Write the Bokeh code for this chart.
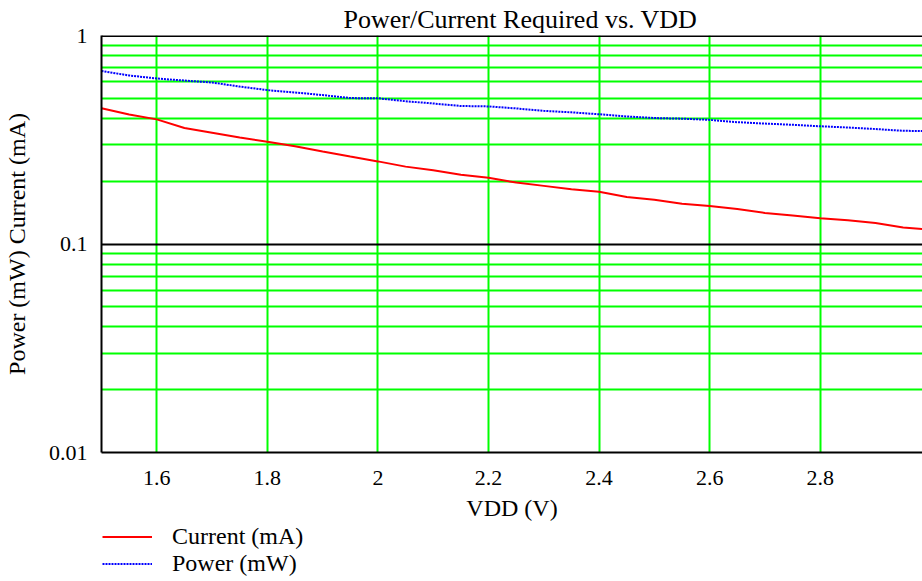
from bokeh.plotting import figure
from bokeh.layouts import column
from bokeh.models import (Range1d, FixedTicker, CustomJSTickFormatter, Legend,
                          LegendItem, Span)
from bokeh.embed import file_html
from bokeh.resources import INLINE

# ---- data ----
vdd = [1.50, 1.55, 1.60, 1.65, 1.70, 1.75, 1.80, 1.85, 1.90, 1.95, 2.00,
       2.05, 2.10, 2.15, 2.20, 2.25, 2.30, 2.35, 2.40, 2.45, 2.50, 2.55,
       2.60, 2.65, 2.70, 2.75, 2.80, 2.85, 2.90, 2.95, 3.00]
current_ma = [0.448, 0.418, 0.396, 0.360, 0.342, 0.324, 0.309, 0.294, 0.278,
              0.263, 0.249, 0.235, 0.226, 0.215, 0.208, 0.197, 0.190, 0.183,
              0.178, 0.168, 0.163, 0.156, 0.152, 0.147, 0.141, 0.137, 0.133,
              0.130, 0.126, 0.120, 0.117]
power_mw = [0.676, 0.643, 0.622, 0.608, 0.595, 0.569, 0.547, 0.533, 0.518,
            0.501, 0.500, 0.484, 0.472, 0.459, 0.457, 0.447, 0.435, 0.428,
            0.419, 0.409, 0.402, 0.399, 0.394, 0.384, 0.378, 0.373, 0.367,
            0.362, 0.356, 0.349, 0.348]

x_ticks = [1.6, 1.8, 2.0, 2.2, 2.4, 2.6, 2.8]
y_ticks = [0.01, 0.1, 1]
y_minor = [m * d for d in (0.01, 0.1) for m in range(2, 10)]

title_text = "Power/Current Required vs. VDD"
x_label = "VDD (V)"
y_label = "Power (mW) Current (mA)"
series_names = ["Current (mA)", "Power (mW)"]

FONT = "Liberation Serif"
GREEN = "#00ff00"

p = figure(frame_width=821, frame_height=417, output_backend="svg",
           toolbar_location=None, y_axis_type="log",
           x_range=Range1d(1.5, 2.985), y_range=Range1d(0.01, 1),
           min_border_left=93, min_border_right=0,
           min_border_top=31, min_border_bottom=71)

p.title.text = title_text
p.title.text_font = FONT
p.title.text_font_size = "26px"
p.title.text_font_style = "normal"
p.title.text_color = "black"
p.title.align = "left"
p.title.offset = 242
p.title.standoff = 4

p.outline_line_color = None
p.background_fill_color = "white"

# axes
p.xaxis.ticker = FixedTicker(ticks=x_ticks)
p.yaxis.ticker = FixedTicker(ticks=y_ticks, minor_ticks=y_minor)
p.yaxis.formatter = CustomJSTickFormatter(code="return tick.toString();")
for ax in (p.xaxis[0], p.yaxis[0]):
    ax.axis_line_color = "black"
    ax.axis_line_width = 2
    ax.major_tick_line_color = None
    ax.minor_tick_line_color = None
    ax.major_label_text_font = FONT
    ax.major_label_text_font_size = "22px"
    ax.major_label_text_color = "black"
    ax.axis_label_text_font = FONT
    ax.axis_label_text_font_size = "24px"
    ax.axis_label_text_font_style = "normal"
    ax.axis_label_text_color = "black"
p.xaxis.axis_label = x_label
p.yaxis.axis_label = y_label
p.xaxis.major_label_standoff = 12
p.xaxis.axis_label_standoff = 7
p.yaxis.major_label_standoff = 8
p.yaxis.axis_label_standoff = 16

# grids
p.xgrid.grid_line_color = GREEN
p.xgrid.grid_line_width = 2
p.ygrid.grid_line_color = "black"
p.ygrid.grid_line_width = 2
p.ygrid.minor_grid_line_color = GREEN
p.ygrid.minor_grid_line_width = 2

top = Span(location=1, dimension="width", line_color="black", line_width=3)
p.add_layout(top)

p.line(vdd, current_ma, line_color="red", line_width=2)
p.line(vdd, power_mw, line_color="blue", line_width=2, line_dash="2 1")

# legend strip below the chart (its frame is aligned with the chart's frame)
lg = figure(width=914, height=56, output_backend="svg",
            toolbar_location=None, x_axis_location=None, y_axis_location=None,
            x_range=Range1d(0, 1), y_range=Range1d(0, 1),
            min_border_left=0, min_border_right=0, min_border_top=0,
            min_border_bottom=0)
lg.outline_line_color = None
lg.xgrid.visible = False
lg.ygrid.visible = False
l_cur = lg.line(vdd, current_ma, line_color="red", line_width=2, visible=False)
l_pow = lg.line(vdd, power_mw, line_color="blue", line_width=2,
                line_dash="2 1", visible=False)
legend = Legend(items=[LegendItem(label=series_names[0], renderers=[l_cur]),
                       LegendItem(label=series_names[1], renderers=[l_pow])],
                location=(1, 2), orientation="vertical",
                glyph_width=50, glyph_height=25, label_height=25,
                label_standoff=20, padding=0, margin=0, spacing=0,
                border_line_color=None, background_fill_alpha=0,
                label_text_font=FONT, label_text_font_size="24px",
                label_text_color="black")
lg.add_layout(legend, "center")

layout = column(p, lg, spacing=0)
open("out.html", "w").write(file_html(layout, INLINE))
